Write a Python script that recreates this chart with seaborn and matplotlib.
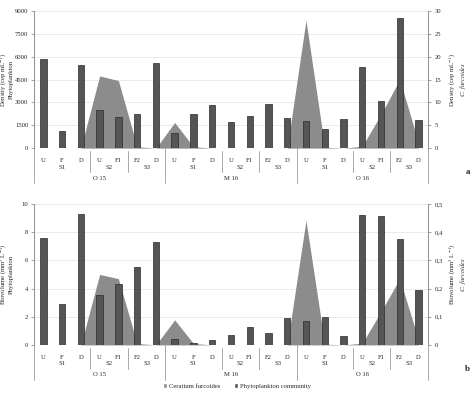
"""
Phytoplankton community vs Ceratium furcoides - density and biovolume
"""

import numpy as np
import pandas as pd
import matplotlib
matplotlib.use('Agg')
import matplotlib.pyplot as plt
from matplotlib.patches import Patch
import matplotlib.transforms as mtransforms
import seaborn as sns

# categories (3 campaigns x 3 stretches x points)
campaigns = ['O 15', 'M 16', 'O 16']
stretches = ['S1', 'S2', 'S3']
points = ['U', 'F', 'D', 'U', 'F1', 'F2', 'D']
stretch_sizes = [3, 2, 2]

# panel a - density
phyto_density = [5850, 1150, 5480, 2530, 2030, 2250, 5570,
                  1020, 2250, 2820, 1720, 2120, 2880, 1990,
                  1770, 1285, 1900, 5310, 3080, 8520, 1835]
cf_density = [0, 0, 0, 15.8, 14.8, 0.3, 0,
              5.6, 0.3, 0, 0, 0, 0, 0,
              28.0, 0.2, 0, 0.4, 7.4, 15.0, 1.2]

# panel b - biovolume
phyto_biovol = [7.57, 2.87, 9.27, 3.54, 4.29, 5.54, 7.31,
                0.45, 0.16, 0.33, 0.71, 1.27, 0.85, 1.94,
                1.70, 2.00, 0.64, 9.24, 9.12, 7.51, 3.90]
cf_biovol = [0, 0, 0, 0.250, 0.235, 0.005, 0,
             0.089, 0.005, 0, 0, 0, 0, 0,
             0.442, 0.003, 0, 0.006, 0.118, 0.235, 0.018]

AREA_COLOR = '#8c8c8c'
BAR_COLOR = '#555555'
FONT = 'Liberation Serif'
FS = 4.8

sns.set_style("white")
plt.rcParams['font.family'] = [FONT, 'DejaVu Sans']
plt.rcParams['font.size'] = FS
plt.rcParams['mathtext.fontset'] = 'stix'


def draw_panel(fig, rect, bars, area, left_max, left_step, right_max, right_step,
               right_fmt, left_label, right_label, letter):
    ax2 = fig.add_axes(rect)      # back layer: area + grid (right axis)
    ax = ax2.twinx()              # front layer: bars (left axis)
    ax2.yaxis.tick_right()
    ax.yaxis.tick_left()
    ax2.set_zorder(1)
    ax.set_zorder(2)
    ax.patch.set_visible(False)

    n = len(bars)
    x = np.arange(n)
    ax2.fill_between(x, area, 0, color=AREA_COLOR, lw=0, zorder=2)

    df = pd.DataFrame({'pos': [str(i) for i in x], 'value': bars})
    sns.barplot(data=df, x='pos', y='value', order=df['pos'], ax=ax,
                color=BAR_COLOR, width=0.34, edgecolor='#2a2a2a', linewidth=0.5,
                saturation=1)

    for a in (ax, ax2):
        a.set_xlim(-0.5, n - 0.5)
        for s in ['top', 'bottom', 'left', 'right']:
            a.spines[s].set_visible(False)
        a.set_xlabel('')
        a.set_ylabel('')
    ax.set_ylim(0, left_max)
    ax2.set_ylim(0, right_max)
    lt = np.arange(0, left_max + left_step / 2, left_step)
    ax.set_yticks(lt)
    ax.set_yticklabels([f'{v:g}' for v in lt])
    rt = np.arange(0, right_max + right_step / 2, right_step)
    ax2.set_yticks(rt)
    ax2.set_yticklabels([right_fmt(v) for v in rt])

    ax2.grid(True, axis='y', color='#e6e6e6', lw=0.6)
    ax2.set_axisbelow(True)
    ax.grid(False)

    ax.spines['left'].set_visible(True)
    ax.spines['left'].set_color('#7f7f7f')
    ax.spines['left'].set_linewidth(0.6)
    ax2.spines['right'].set_visible(True)
    ax2.spines['right'].set_color('#7f7f7f')
    ax2.spines['right'].set_linewidth(0.6)
    ax.tick_params(axis='y', length=2, width=0.5, color='#7f7f7f', labelsize=FS, pad=2)
    ax2.tick_params(axis='y', length=2, width=0.5, color='#7f7f7f', labelsize=FS, pad=3)

    # axis titles as plain axes texts
    ax.text(-0.07, 0.5, left_label, transform=ax.transAxes, rotation=90,
            ha='center', va='center', fontsize=FS, linespacing=1.0)
    ax.text(1.075, 0.5, right_label, transform=ax.transAxes, rotation=90,
            ha='center', va='center', fontsize=FS, linespacing=1.0)

    # multi-level category axis
    ax2.set_xticks([])
    ax.set_xticks(x)
    ax.set_xticklabels(points * len(campaigns), fontsize=FS)
    ax.tick_params(axis='x', length=0, pad=2)

    trans = mtransforms.blended_transform_factory(ax.transData, ax.transAxes)
    h_px = rect[3] * fig.get_figheight() * fig.dpi
    row2 = -19.0 / h_px
    row3 = -30.0 / h_px
    sep2 = -24.0 / h_px
    sep3 = -35.0 / h_px
    line_kw = dict(color='#9a9a9a', lw=0.6, transform=trans, clip_on=False)

    ax.plot([-0.5, -0.5], [0, sep3], **line_kw)
    start = 0
    for c in campaigns:
        c_start = start
        for s, size in zip(stretches, stretch_sizes):
            ax.text(start + (size - 1) / 2, row2, s, transform=trans,
                    ha='center', va='center', fontsize=FS)
            start += size
            if s != stretches[-1]:
                ax.plot([start - 0.5, start - 0.5], [-3.0 / h_px, sep2], **line_kw)
        ax.text((c_start + start - 1) / 2, row3, c, transform=trans,
                ha='center', va='center', fontsize=FS)
        ax.plot([start - 0.5, start - 0.5], [0, sep3], **line_kw)

    fig.text(0.992, rect[1] - 24.0 / (fig.get_figheight() * fig.dpi), letter,
             fontsize=6.5, fontweight='bold', ha='right', va='center')
    return ax, ax2


def main():
    fig = plt.figure(figsize=(4.74, 3.96), dpi=100)

    draw_panel(fig, [0.0717, 0.626, 0.831, 0.346], phyto_density, cf_density,
               9000, 1500, 30, 5, lambda v: f'{v:g}',
               'Density (cep mL$^{-1}$)\nPhytoplankton',
               'Density (cep mL$^{-1}$)\n$\\it{C.\\ furcoides}$', 'a')

    draw_panel(fig, [0.0717, 0.129, 0.831, 0.356], phyto_biovol, cf_biovol,
               10, 2, 0.5, 0.1, lambda v: f'{v:.1f}'.replace('.', ',') if v > 0 else '0',
               'Biovolume (mm$^{3}$ L$^{-1}$)\nPhytoplankton',
               'Biovolume (mm$^{3}$ L$^{-1}$)\n$\\it{C.\\ furcoides}$', 'b')

    handles = [Patch(facecolor=AREA_COLOR, label='Ceratium furcoides'),
               Patch(facecolor=BAR_COLOR, label='Phytoplankton community')]
    fig.legend(handles=handles, loc='center', bbox_to_anchor=(0.5, 1 - 386 / 396),
               ncol=2, frameon=False, fontsize=FS, handlelength=0.6, handleheight=0.6,
               handletextpad=0.3, columnspacing=2.0)

    fig.savefig('out.png', dpi=100)
    plt.close(fig)


if __name__ == "__main__":
    main()
